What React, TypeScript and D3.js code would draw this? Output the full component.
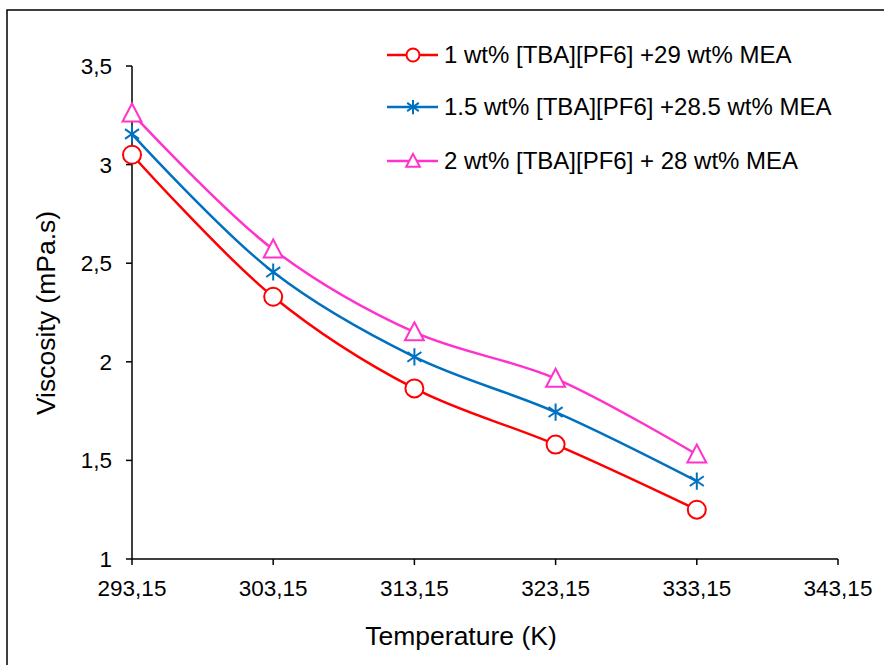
import React from "react";
import * as d3 from "d3";

const temperatures = [293.15, 303.15, 313.15, 323.15, 333.15];
const series1 = [3.05, 2.33, 1.865, 1.58, 1.25];
const series2 = [3.155, 2.455, 2.025, 1.745, 1.395];
const series3 = [3.26, 2.57, 2.15, 1.915, 1.53];
const seriesNames = [
  "1 wt% [TBA][PF6] +29 wt% MEA",
  "1.5 wt% [TBA][PF6] +28.5 wt% MEA",
  "2 wt% [TBA][PF6] + 28 wt% MEA",
];
const xTicks = [293.15, 303.15, 313.15, 323.15, 333.15, 343.15];
const yTicks = [1, 1.5, 2, 2.5, 3, 3.5];

const colors = ["#FF0000", "#0070C0", "#FF33CC"];
const markers = ["circle", "star", "triangle"];

const fmt = (v: number, d: number) => v.toFixed(d).replace(".", ",");

function Marker({ type, x, y, color, s }: { type: string; x: number; y: number; color: string; s: number }) {
  if (type === "circle") {
    return <circle cx={x} cy={y} r={s} fill="white" stroke={color} strokeWidth={2} />;
  }
  if (type === "triangle") {
    const h = s * 2;
    return (
      <path
        d={`M${x},${y - h * 0.55} L${x + s * 1.05},${y + h * 0.45} L${x - s * 1.05},${y + h * 0.45} Z`}
        fill="white"
        stroke={color}
        strokeWidth={2}
      />
    );
  }
  const r = s * 0.95;
  const lines = [0, 55, 125].map((a) => {
    const rad = (a * Math.PI) / 180;
    return `M${x + r * Math.sin(rad)},${y - r * Math.cos(rad)} L${x - r * Math.sin(rad)},${y + r * Math.cos(rad)}`;
  });
  return <path d={lines.join(" ")} stroke={color} strokeWidth={2} fill="none" />;
}

export default function App() {
  const W = 884, H = 665;
  const x = d3.scaleLinear().domain([293.15, 343.15]).range([132, 838]);
  const y = d3.scaleLinear().domain([1, 3.5]).range([559, 66]);
  const data = [series1, series2, series3];
  const line = d3
    .line<number>()
    .x((_, i) => x(temperatures[i]))
    .y((d) => y(d))
    .curve(d3.curveCatmullRom.alpha(0.5));
  const font = "'Liberation Sans', Arial, sans-serif";
  const legendY = [55, 107, 161];

  return (
    <svg width={W} height={H} style={{ position: "absolute", left: 0, top: 0 }} fontFamily={font}>
      <rect x={0} y={0} width={W} height={H} fill="white" />
      <rect x={7} y={10} width={W + 20} height={H + 20} fill="white" stroke="#000" strokeWidth={1.5} />
      {/* axes */}
      <line x1={x(293.15)} x2={x(343.15)} y1={y(1)} y2={y(1)} stroke="#000" strokeWidth={1.5} />
      <line x1={x(293.15)} x2={x(293.15)} y1={y(1)} y2={y(3.5)} stroke="#000" strokeWidth={1.5} />
      {xTicks.map((t) => (
        <g key={t}>
          <line x1={x(t)} x2={x(t)} y1={y(1)} y2={y(1) + 6} stroke="#000" strokeWidth={1.5} />
          <text x={x(t)} y={y(1) + 37} textAnchor="middle" fontSize={22.5} fill="#000">
            {fmt(t, 2)}
          </text>
        </g>
      ))}
      {yTicks.map((t) => (
        <g key={t}>
          <line x1={x(293.15) - 6} x2={x(293.15)} y1={y(t)} y2={y(t)} stroke="#000" strokeWidth={1.5} />
          <text x={x(293.15) - 20} y={y(t) + 8} textAnchor="end" fontSize={22.5} fill="#000">
            {t % 1 === 0 ? String(t) : fmt(t, 1)}
          </text>
        </g>
      ))}
      <text x={461} y={645} textAnchor="middle" fontSize={26.5} fill="#000">
        Temperature (K)
      </text>
      <text
        transform={`translate(55,313) rotate(-90)`}
        textAnchor="middle"
        fontSize={26.5}
        fill="#000"
      >
        Viscosity (mPa.s)
      </text>
      {data.map((s, k) => (
        <g key={k}>
          <path d={line(s) || ""} fill="none" stroke={colors[k]} strokeWidth={2.5} />
          {s.map((v, i) => (
            <Marker key={i} type={markers[k]} x={x(temperatures[i])} y={y(v)} color={colors[k]} s={9} />
          ))}
        </g>
      ))}
      {seriesNames.map((n, k) => (
        <g key={n}>
          <line x1={387} x2={438} y1={legendY[k]} y2={legendY[k]} stroke={colors[k]} strokeWidth={2.5} />
          <Marker type={markers[k]} x={413} y={legendY[k]} color={colors[k]} s={k === 1 ? 7.5 : 6.5} />
          <text x={444} y={legendY[k] + 8} fontSize={24} fill="#000">
            {n}
          </text>
        </g>
      ))}
    </svg>
  );
}
